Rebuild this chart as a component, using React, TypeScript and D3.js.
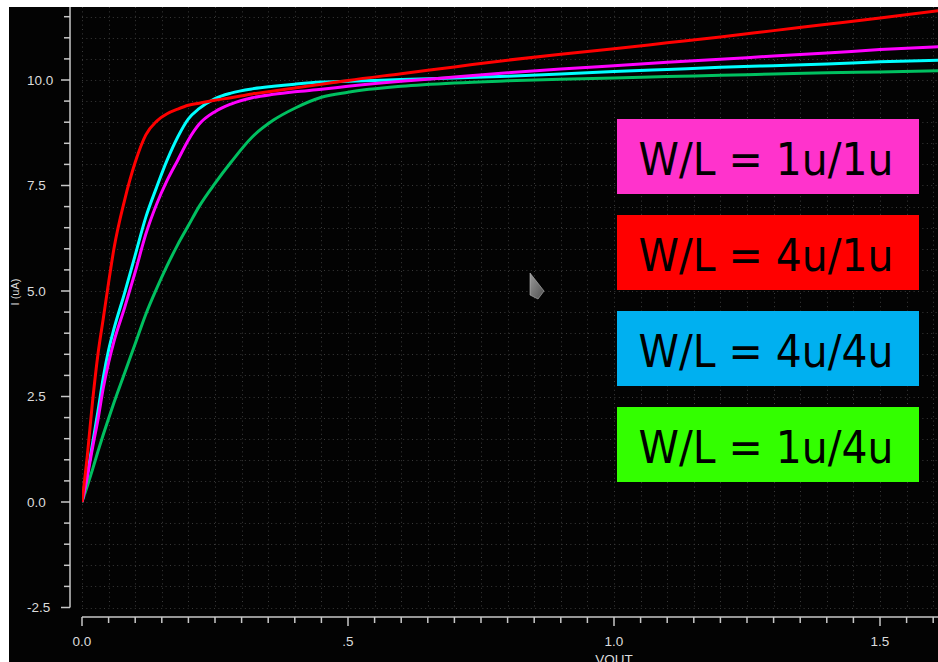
import React from "react";
import * as d3 from "d3";

// ---- data ----
const vout = [0, 0.01, 0.02, 0.03, 0.04, 0.05, 0.06, 0.08, 0.1, 0.12, 0.14, 0.16, 0.18, 0.2, 0.22, 0.25, 0.28, 0.32, 0.36, 0.4, 0.45, 0.5, 0.6, 0.7, 0.8, 0.9, 1.0, 1.1, 1.2, 1.3, 1.4, 1.5, 1.61];

const iRed4u1u = [0, 1.1, 2.4, 3.5, 4.35, 5.2, 6.0, 7.15, 8.05, 8.7, 9.02, 9.2, 9.31, 9.4, 9.45, 9.52, 9.58, 9.67, 9.74, 9.81, 9.9, 9.99, 10.15, 10.31, 10.47, 10.61, 10.74, 10.88, 11.02, 11.17, 11.32, 11.47, 11.64];
const iCyan4u4u = [0, 0.65, 1.4, 2.15, 2.95, 3.6, 4.1, 4.95, 5.85, 6.75, 7.45, 8.1, 8.65, 9.08, 9.32, 9.56, 9.69, 9.79, 9.85, 9.9, 9.95, 9.97, 10.01, 10.05, 10.09, 10.14, 10.2, 10.25, 10.3, 10.34, 10.38, 10.43, 10.47];
const iMagenta1u1u = [0, 0.6, 1.3, 1.95, 2.7, 3.3, 3.8, 4.6, 5.45, 6.35, 7.05, 7.62, 8.1, 8.58, 8.95, 9.25, 9.43, 9.58, 9.66, 9.72, 9.78, 9.85, 9.97, 10.07, 10.17, 10.26, 10.34, 10.42, 10.49, 10.57, 10.64, 10.72, 10.79];
const iGreen1u4u = [0, 0.38, 0.78, 1.2, 1.6, 1.98, 2.35, 3.05, 3.75, 4.45, 5.05, 5.6, 6.1, 6.55, 7.0, 7.55, 8.05, 8.65, 9.05, 9.33, 9.59, 9.71, 9.85, 9.93, 9.98, 10.02, 10.05, 10.08, 10.11, 10.14, 10.17, 10.19, 10.22];

const seriesNames = ["1u/4u", "4u/4u", "1u/1u", "4u/1u"];
const seriesValues = [iGreen1u4u, iCyan4u4u, iMagenta1u1u, iRed4u1u];
const seriesColors = ["#00c060", "#00ffff", "#ff00ff", "#ff0000"];

const legendLabels = ["W/L = 1u/1u", "W/L = 4u/1u", "W/L = 4u/4u", "W/L = 1u/4u"];
const legendColors = ["#ff33cc", "#ff0000", "#00b0f0", "#33ff00"];

const yTickLabels = ["-2.5", "0.0", "2.5", "5.0", "7.5", "10.0"];
const yTickValues = [-2.5, 0, 2.5, 5, 7.5, 10];
const xTickLabels = ["0.0", ".5", "1.0", "1.5"];
const xTickValues = [0, 0.5, 1.0, 1.5];

export default function App() {
  const W = 938;
  const H = 662;
  const left = 9;
  const top = 7;
  const x = d3.scaleLinear().domain([0, 1.5]).range([82, 880]);
  const y = d3.scaleLinear().domain([-2.5, 10]).range([607.5, 80]);
  const plotRight = W;
  const plotBottom = y(-2.5);
  const xAxisY = 617;
  const yAxisX = 70;

  const xGrid = d3.range(0, 33).map((i) => i * 0.05);
  const yGrid = d3.range(0, 29).map((i) => -2.5 + i * 0.5);

  const line = d3
    .line<[number, number]>()
    .x((d) => x(d[0]))
    .y((d) => y(d[1]))
    .curve(d3.curveMonotoneX);

  const labelColor = "#dcdcdc";
  const axisColor = "#c8c8c8";

  return (
    <svg
      width={W}
      height={H}
      style={{ position: "absolute", left: 0, top: 0, display: "block" }}
    >
      <defs>
        <clipPath id="plot">
          <rect x={82} y={top} width={plotRight - 82} height={plotBottom - top + 2} />
        </clipPath>
        <linearGradient id="cur" x1="0" y1="0" x2="1" y2="1">
          <stop offset="0" stopColor="#9a9a9a" />
          <stop offset="1" stopColor="#505050" />
        </linearGradient>
      </defs>
      <rect x={0} y={0} width={W} height={H} fill="#ffffff" />
      <rect x={left} y={top} width={W - left} height={H - top} fill="#030303" />

      {/* grid */}
      <g stroke="#3a3a3a" strokeWidth={1} strokeDasharray="1 3.4">
        {xGrid.map((v, i) => (
          <line key={"gx" + i} x1={Math.round(x(v)) + 0.5} x2={Math.round(x(v)) + 0.5} y1={top} y2={plotBottom} />
        ))}
        {yGrid.map((v, i) => (
          <line key={"gy" + i} x1={82} x2={plotRight} y1={Math.round(y(v)) + 0.5} y2={Math.round(y(v)) + 0.5} />
        ))}
      </g>

      {/* y axis */}
      <g stroke={axisColor} strokeWidth={1.5}>
        <line x1={yAxisX} x2={yAxisX} y1={top} y2={plotBottom} />
        {yGrid.map((v, i) => {
          const major = Math.abs(v / 2.5 - Math.round(v / 2.5)) < 1e-6;
          return (
            <line key={"yt" + i} x1={major ? yAxisX - 9 : yAxisX - 6} x2={yAxisX} y1={y(v)} y2={y(v)} />
          );
        })}
      </g>
      <g fontFamily="Liberation Sans, Arial, sans-serif" fontSize={13.5} fill={labelColor}>
        {yTickValues.map((v, i) => (
          <text key={"yl" + i} x={27} y={y(v)} dominantBaseline="central">
            {yTickLabels[i]}
          </text>
        ))}
        <text transform={`translate(19, 292) rotate(-90)`} textAnchor="middle" fontSize={11}>
          I (uA)
        </text>
      </g>

      {/* x axis */}
      <g stroke={axisColor} strokeWidth={1.5}>
        <line x1={82} x2={plotRight} y1={xAxisY} y2={xAxisY} />
        {xGrid.map((v, i) => {
          const major = i % 10 === 0;
          return (
            <line key={"xt" + i} x1={x(v)} x2={x(v)} y1={xAxisY} y2={xAxisY + (major ? 9 : 6)} />
          );
        })}
      </g>
      <g fontFamily="Liberation Sans, Arial, sans-serif" fontSize={13.5} fill={labelColor} textAnchor="middle">
        {xTickValues.map((v, i) => (
          <text key={"xl" + i} x={x(v)} y={646}>
            {xTickLabels[i]}
          </text>
        ))}
        <text x={x(1.0)} y={664}>VOUT</text>
      </g>

      {/* curves */}
      <g clipPath="url(#plot)" fill="none" strokeWidth={3} strokeLinejoin="round">
        {seriesValues.map((vals, si) => (
          <path
            key={seriesNames[si]}
            d={line(vout.map((v, k) => [v, vals[k]] as [number, number])) || ""}
            stroke={seriesColors[si]}
          />
        ))}
      </g>

      {/* legend boxes */}
      {legendLabels.map((lab, i) => (
        <g key={"lg" + i}>
          <rect x={617} y={119 + i * 96} width={302} height={75} fill={legendColors[i]} />
          <text
            x={766}
            y={175 + i * 96}
            textAnchor="middle"
            fontFamily="DejaVu Sans, Verdana, sans-serif"
            fontSize={45}
            textLength={255}
            lengthAdjust="spacingAndGlyphs"
            fill="#000"
          >
            {lab}
          </text>
        </g>
      ))}

      {/* mouse cursor artifact */}
      <path d="M530,273 L530,295 L538,299 L544,291 Z" fill="url(#cur)" stroke="#bbbbbb" strokeWidth={0.6} />
    </svg>
  );
}
